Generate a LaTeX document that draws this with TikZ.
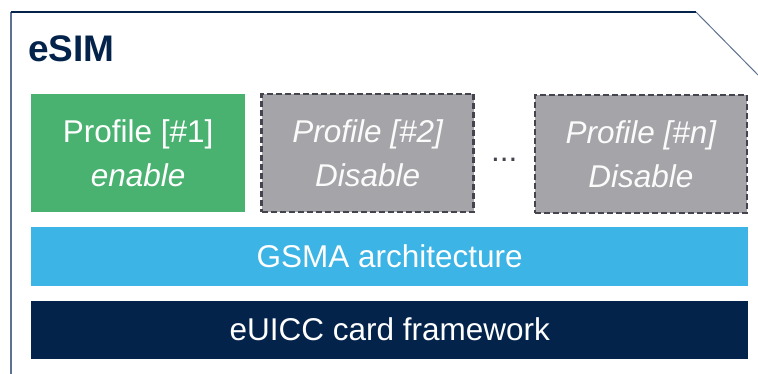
\documentclass[tikz,border=0pt]{standalone}
\usepackage{fontspec}
\setmainfont{Liberation Sans}
\usetikzlibrary{positioning}

\definecolor{esimnavy}{HTML}{03234B}
\definecolor{esimslate}{HTML}{5E7191}
\definecolor{esimgreen}{HTML}{4AB271}
\definecolor{esimgray}{HTML}{A5A4A8}
\definecolor{esimdash}{HTML}{44444E}
\definecolor{gsmablue}{HTML}{3CB4E5}

\begin{document}
\begin{tikzpicture}[x=1pt,y=-1pt,node distance=15pt,
    profile node/.style={minimum width=214pt,minimum height=118pt,inner sep=0pt,align=center,text=white,font=\fontsize{31.5}{44}\selectfont},
    off node/.style={profile node,minimum width=212pt,fill=esimgray,draw=esimdash,line width=2.4pt,dash pattern=on 6pt off 3pt,text=white!96!esimgray,font=\fontsize{31.5}{44}\selectfont\itshape},
    bar node/.style={minimum width=717pt,inner sep=0pt,text=white,font=\fontsize{31.5}{36}\selectfont}]
    \useasboundingbox (0,0) rectangle (758,374);

    % card outline
    \draw[esimslate,line width=1.5pt] (11,374) -- (11,12);
    \draw[esimnavy,line width=1.5pt] (11,12) -- (696,12);
    \draw[esimslate,line width=1pt] (696,12) -- (758,75);

    \node[anchor=base west,inner sep=0pt,text=esimnavy,font=\fontsize{37}{40}\selectfont\bfseries] (title) at (28,62) {eSIM};

    % profiles
    \node[profile node,fill=esimgreen,anchor=north west] (p1) at (31,94) {Profile [\#1]\\\textit{enable}};
    \node[off node] (p2) [right=15pt of p1] {Profile [\#2]\\Disable};
    \node[off node,anchor=north east] (pn) at (748,94) {Profile [\#n]\\Disable};
    \path (p2.east) -- (pn.west) node[midway,yshift=-6pt,font=\fontsize{31.5}{36}\selectfont,text=esimdash] (dots) {...};

    % layers
    \node[bar node,minimum height=59pt,fill=gsmablue,anchor=north west] (gsma) at (31,227) {GSMA architecture};
    \node[bar node,minimum height=58pt,fill=esimnavy] (euicc) [below=14pt of gsma] {eUICC card framework};
\end{tikzpicture}
\end{document}
